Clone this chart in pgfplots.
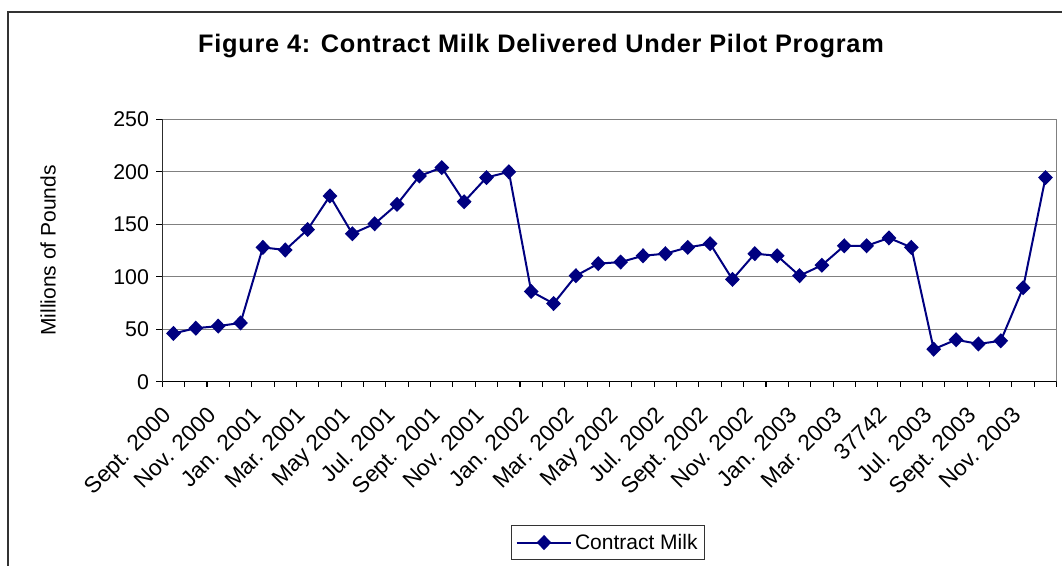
\documentclass[border=0pt]{standalone}
\usepackage{pgfplots}
\pgfplotsset{compat=1.18}
\usepackage{fontspec}
\setmainfont{Liberation Sans}

\definecolor{milk}{RGB}{0,0,128}
\definecolor{gridgray}{RGB}{128,128,128}

\begin{document}
\begin{tikzpicture}
\useasboundingbox (-121.7pt,-138.2pt) rectangle (674.8pt,286.3pt);
\clip (-121.7pt,-138.2pt) rectangle (674.8pt,286.3pt);
% chart frame (runs off the right and bottom edges)
\draw[line width=1.1pt, black!80] (-115.7pt,-200pt) rectangle (720pt,277.3pt);

\node[font=\fontsize{19}{22}\selectfont\bfseries\addfontfeatures{LetterSpace=3}] at (284pt,251.5pt) {Figure 4: Contract Milk Delivered Under Pilot Program};

\begin{axis}[
    at={(0pt,0pt)}, anchor=south west,
    scale only axis,
    width=670.8pt, height=196.8pt,
    xmin=0.5, xmax=40.5,
    ymin=0, ymax=250,
    ytick={0,50,...,250},
    xtick={1,3,...,39},
    xticklabels={Sept. 2000, Nov. 2000, Jan. 2001, Mar. 2001, May 2001, Jul. 2001,
        Sept. 2001, Nov. 2001, Jan. 2002, Mar. 2002, May 2002, Jul. 2002,
        Sept. 2002, Nov. 2002, Jan. 2003, Mar. 2003, 37742, Jul. 2003,
        Sept. 2003, Nov. 2003},
    minor xtick={0.5,1.5,...,40.5},
    major x tick style={draw=none},
    tick pos=left,
    tick align=outside,
    major tick length=4.5pt,
    minor tick length=3.75pt,
    tick style={black, line width=0.8pt},
    ymajorgrids,
    grid style={gridgray, line width=0.9pt},
    axis line style={gridgray, line width=0.9pt},
    /pgf/number format/assume math mode=true,
    tick label style={font=\fontsize{16}{18}\selectfont},
    yticklabel style={xshift=-2pt},
    xticklabel style={font=\fontsize{17}{19}\selectfont,
        xshift=-9pt, yshift=-13pt, rotate=45, anchor=north east, inner sep=0pt},
    ylabel={Millions of Pounds},
    ylabel style={at={(axis description cs:-0.1275,0.5)}, anchor=center,
        font=\fontsize{15.75}{18}\selectfont},
    legend style={at={(axis description cs:0.4983,-0.6128)}, anchor=center,
        draw=black!80, line width=0.8pt, font=\fontsize{15.75}{18}\selectfont,
        inner xsep=3pt, inner ysep=4pt},
    legend image code/.code={
        \draw[mark repeat=2, mark phase=2, #1]
            plot coordinates {(0pt,0pt) (20.5pt,0pt) (41pt,0pt)};
    },
]
\addplot[milk, line width=1.5pt, mark=diamond*, mark size=4.6pt,
    mark options={solid, xscale=1.3}] coordinates {
    (1,46) (2,51) (3,53) (4,56) (5,128) (6,125.5) (7,145) (8,177)
    (9,141) (10,150.5) (11,169) (12,196) (13,204) (14,171.5) (15,194.5) (16,200)
    (17,86) (18,74.5) (19,101) (20,112.5) (21,114) (22,120) (23,122) (24,128)
    (25,131.5) (26,97.5) (27,122) (28,120) (29,101) (30,111) (31,129.5) (32,129.5)
    (33,137) (34,128) (35,31) (36,40) (37,36) (38,39) (39,89.5) (40,194.5)
};
\addlegendentry{Contract Milk}
\draw[black, line width=0.9pt] (rel axis cs:0,1) -- (rel axis cs:0,0) -- (rel axis cs:1,0);
\end{axis}
\end{tikzpicture}
\end{document}
